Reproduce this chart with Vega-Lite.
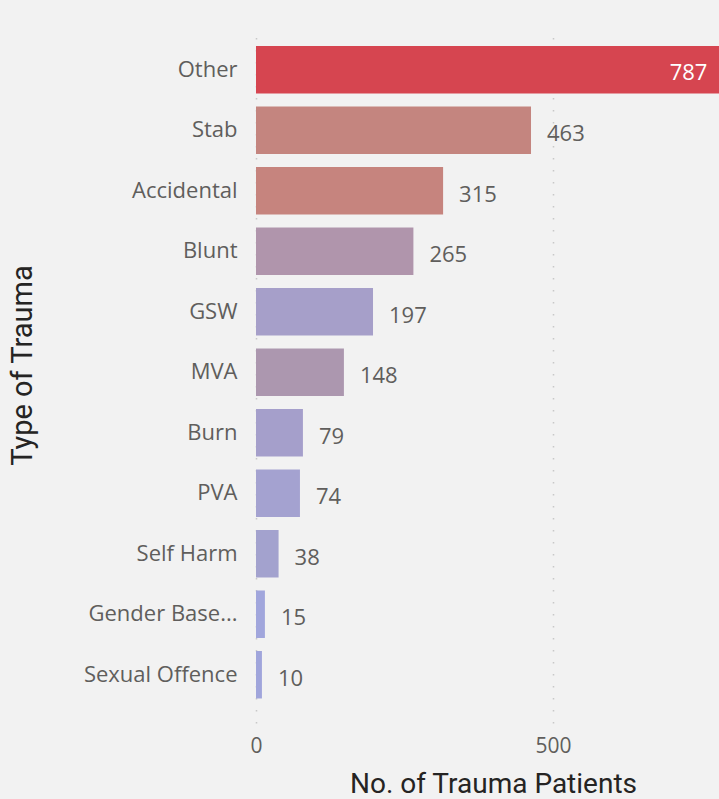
{
  "$schema": "https://vega.github.io/schema/vega-lite/v6.json",
  "autosize": {"type": "none"},
  "padding": {"left": 256, "top": 31, "right": 0, "bottom": 76},
  "width": 463,
  "height": 692,
  "background": "#F2F2F2",
  "config": {
    "view": {"stroke": null},
    "font": "Open Sans"
  },
  "data": {
    "values": [
      {"type": "Other", "patients": 787},
      {"type": "Stab", "patients": 463},
      {"type": "Accidental", "patients": 315},
      {"type": "Blunt", "patients": 265},
      {"type": "GSW", "patients": 197},
      {"type": "MVA", "patients": 148},
      {"type": "Burn", "patients": 79},
      {"type": "PVA", "patients": 74},
      {"type": "Self Harm", "patients": 38},
      {"type": "Gender Base...", "patients": 15},
      {"type": "Sexual Offence", "patients": 10}
    ]
  },
  "encoding": {
    "y": {
      "field": "type",
      "type": "nominal",
      "sort": null,
      "scale": {"paddingInner": 0.215, "paddingOuter": 0.327, "align": 0.38},
      "axis": {
        "title": "Type of Trauma",
        "titleFont": "Roboto",
        "titleFontSize": 29,
        "titleFontWeight": "normal",
        "titleColor": "#252423",
        "titleX": -234,
        "titleY": 334,
        "titleAngle": -90,
        "titleAlign": "center",
        "titleBaseline": "middle",
        "labelFontSize": 22,
        "labelColor": "#605E5C",
        "labelPadding": 19,
        "ticks": false,
        "domain": false,
        "grid": false
      }
    },
    "x": {
      "field": "patients",
      "type": "quantitative",
      "scale": {"domain": [0, 779.5], "nice": false, "zero": true},
      "axis": {
        "title": "No. of Trauma Patients",
        "titleFont": "Roboto",
        "titleFontSize": 28,
        "titleFontWeight": "normal",
        "titleColor": "#252423",
        "titlePadding": 14,
        "titleX": 237,
        "labelFontSize": 21,
        "labelColor": "#605E5C",
        "labelPadding": 12,
        "labelFlush": false,
        "values": [0, 500],
        "ticks": false,
        "domain": false,
        "grid": true,
        "gridColor": "#C8C8C8",
        "gridDash": [1.5, 10.5],
        "gridWidth": 1.5
      }
    }
  },
  "layer": [
    {
      "mark": {"type": "bar", "clip": true},
      "encoding": {
        "color": {
          "field": "type",
          "type": "nominal",
          "legend": null,
          "scale": {
            "domain": ["Other", "Stab", "Accidental", "Blunt", "GSW", "MVA", "Burn", "PVA", "Self Harm", "Gender Base...", "Sexual Offence"],
            "range": ["#D64550", "#C4857F", "#C6847E", "#B095AC", "#A69FC9", "#AC97AF", "#A59FCB", "#A4A2D0", "#A3A2CE", "#A1A6DC", "#A0A5DB"]
          }
        }
      }
    },
    {
      "transform": [{"filter": "datum.patients < 700"}],
      "mark": {"type": "text", "align": "left", "baseline": "middle", "dx": 16, "dy": 4, "fontSize": 22, "color": "#605E5C"},
      "encoding": {"text": {"field": "patients", "type": "quantitative"}}
    },
    {
      "transform": [{"filter": "datum.patients >= 700"}],
      "mark": {"type": "text", "align": "right", "baseline": "middle", "dx": -16, "dy": 3, "fontSize": 22, "color": "#FFFFFF"},
      "encoding": {"text": {"field": "patients", "type": "quantitative"}}
    }
  ]
}
